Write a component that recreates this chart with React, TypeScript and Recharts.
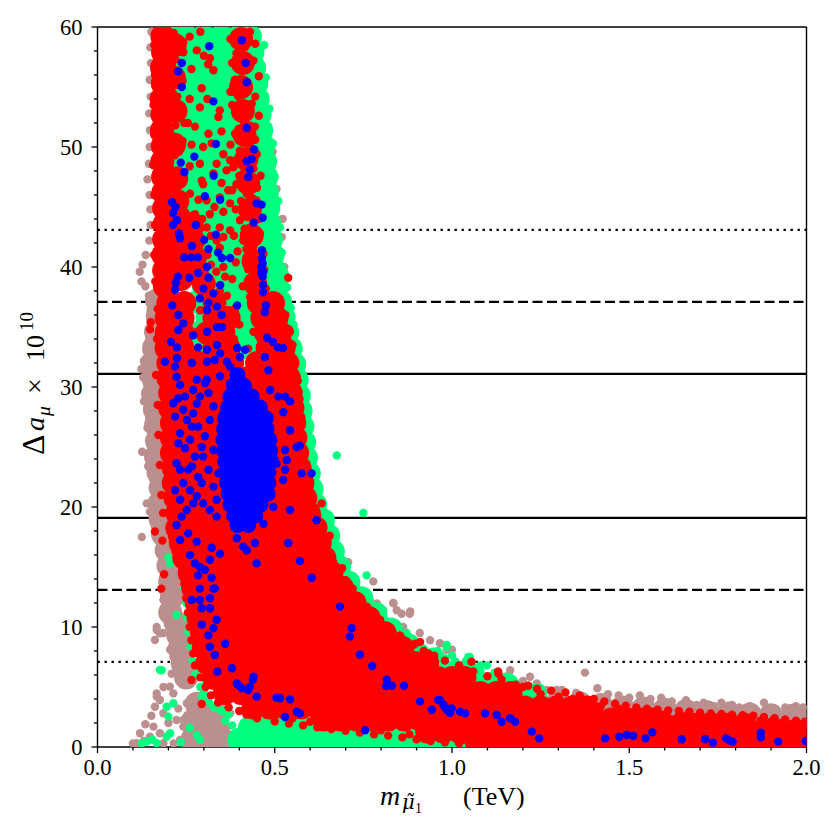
import React from "react";
import { ScatterChart, Scatter, XAxis, YAxis, ReferenceLine } from "recharts";

type Pt = [number, number];
type Row = [number, number[]]; // [y, x values along that y]

const xTicks = [0, 0.1, 0.2, 0.3, 0.4, 0.5, 0.6, 0.7, 0.8, 0.9, 1.0, 1.1, 1.2, 1.3, 1.4, 1.5, 1.6, 1.7, 1.8, 1.9, 2.0];
const yTicks = [0, 2, 4, 6, 8, 10, 12, 14, 16, 18, 20, 22, 24, 26, 28, 30, 32, 34, 36, 38, 40, 42, 44, 46, 48, 50, 52, 54, 56, 58, 60];

const solidLevels = [19.1, 31.1];
const dashedLevels = [13.1, 37.1];
const dottedLevels = [7.1, 43.1];

// ---- brown points (all scanned points) ----
const brownFill: Pt[] = [
  [0.168, 37.2], [0.17, 35.9], [0.165, 34.6], [0.16, 33.3],
  [0.155, 32.0], [0.158, 30.7], [0.157, 29.4], [0.162, 28.1], [0.165, 26.8], [0.168, 25.5], [0.165, 24.2],
  [0.172, 22.9], [0.178, 21.6], [0.175, 20.3], [0.178, 19.0], [0.185, 17.7], [0.195, 16.4], [0.2, 15.1],
  [0.205, 13.8], [0.21, 12.5], [0.205, 11.2], [0.22, 10.4], [0.228, 9.3], [0.232, 8.2], [0.24, 7.0],
  [0.25, 5.8], [0.28, 3.6], [0.3, 2.5], [0.27, 2.2], [0.33, 1.5], [0.29, 1.2], [0.35, 0.7], [0.31, 0.5],
  [0.268, 0.6], [0.34, 2.6],
  [1.3, 3.8], [1.36, 3.65], [1.42, 3.5], [1.48, 3.3], [1.54, 3.2], [1.6, 3.1], [1.66, 3.0],
  [1.72, 2.9], [1.78, 2.8], [1.84, 2.7], [1.9, 2.65], [1.96, 2.6], [1.995, 2.5],
];

const brownDots: Pt[] = [
  [0.152, 59.6], [0.149, 58.3], [0.151, 57.0], [0.147, 55.6], [0.15, 54.2], [0.146, 52.8], [0.148, 51.4],
  [0.147, 50.0], [0.145, 48.6], [0.141, 47.3], [0.147, 46.0], [0.149, 44.8], [0.15, 43.5], [0.146, 42.2],
  [0.136, 41.0], [0.127, 40.2], [0.119, 39.6], [0.124, 38.8], [0.135, 38.4], [0.145, 37.6], [0.15, 36.4],
  [0.152, 35.2], [0.146, 34.0], [0.138, 33.0], [0.131, 32.2], [0.124, 31.5], [0.129, 30.8], [0.14, 30.2],
  [0.135, 29.5], [0.131, 28.8], [0.14, 28.2], [0.146, 27.4], [0.141, 26.6], [0.15, 25.8], [0.126, 24.6],
  [0.143, 23.4], [0.157, 22.3], [0.166, 21.7], [0.139, 20.3], [0.148, 19.6], [0.125, 17.5], [0.162, 18.4],
  [0.355, 59.7], [0.372, 59.0], [0.39, 59.6], [0.384, 52.9], [0.398, 52.3], [0.468, 54.4], [0.494, 49.6],
  [0.49, 48.3], [0.478, 51.2], [0.505, 46.5], [0.52, 42.5], [0.527, 40.0], [0.522, 44.0], [0.54, 36.0],
  [0.55, 34.5], [0.56, 33.0],
  [0.186, 16.4], [0.195, 15.3], [0.186, 14.2], [0.181, 13.1], [0.186, 12.25], [0.195, 11.4], [0.167, 10.0],
  [0.186, 9.5], [0.209, 9.5], [0.205, 8.1], [0.214, 7.5], [0.209, 6.1], [0.186, 5.0], [0.167, 4.2],
  [0.167, 9.75], [0.176, 9.47], [0.162, 8.92],
  [0.204, 5.03], [0.214, 4.47], [0.167, 4.47], [0.176, 3.92], [0.162, 3.36], [0.186, 2.81], [0.252, 3.64],
  [0.27, 3.36], [0.261, 2.53], [0.242, 2.25], [0.28, 1.7], [0.308, 2.81], [0.327, 2.25], [0.346, 1.97],
  [0.364, 1.7], [0.299, 0.86], [0.327, 0.86], [0.355, 0.58], [0.12, 1.14], [0.11, 0.31], [0.148, 0.86],
  [0.176, 1.14], [0.158, 1.7], [0.186, 0.31], [0.252, 1.14], [0.233, 0.58], [0.289, 0.31], [0.223, 2.25],
  [0.242, 1.7], [0.346, 3.36], [0.374, 2.81], [0.1, 0.3], [0.13, 0.5], [0.135, 1.9], [0.152, 2.6],
  [0.2, 2.0], [0.215, 0.3], [0.228, 3.2],
  [0.707, 15.4], [0.778, 13.8], [0.834, 12.0], [0.881, 11.1], [0.844, 11.4], [0.938, 8.9], [0.985, 8.4],
  [0.768, 12.25], [0.806, 11.4], [0.862, 10.0], [0.909, 9.5], [0.788, 11.97], [0.835, 11.97], [0.858, 11.1],
  [0.882, 11.3], [0.966, 8.64], [0.985, 8.1], [0.938, 7.8], [0.9, 8.1], [1.0, 8.1], [1.164, 6.4],
  [1.22, 5.86], [1.239, 5.3], [1.267, 4.75], [1.295, 4.75], [1.375, 6.2], [1.31, 4.75], [1.41, 4.9],
  [1.47, 4.3], [1.53, 4.3], [1.59, 4.1], [1.66, 3.9], [1.71, 3.7], [1.76, 3.7], [1.81, 3.3], [1.88, 3.7],
  [1.94, 3.3], [1.99, 3.3], [1.35, 4.5], [1.44, 4.4], [1.5, 4.1], [1.56, 4.0], [1.62, 3.8], [1.69, 3.5],
  [1.74, 3.4], [1.79, 3.5], [1.84, 3.4], [1.9, 3.2], [1.97, 3.4], [1.16, 6.0], [1.2, 5.5],
];

// ---- green points ----
const greenFillRows: Row[] = [
  [59.2, [0.205, 0.25, 0.3, 0.35, 0.4, 0.43]],
  [57.9, [0.225, 0.275, 0.325, 0.375, 0.42, 0.437]],
  [56.6, [0.2, 0.25, 0.3, 0.35, 0.4, 0.442]],
  [55.3, [0.225, 0.275, 0.325, 0.375, 0.425, 0.448]],
  [54.0, [0.2, 0.25, 0.3, 0.35, 0.4, 0.452]],
  [52.7, [0.225, 0.275, 0.325, 0.375, 0.425, 0.457]],
  [51.4, [0.2, 0.25, 0.3, 0.35, 0.4, 0.45, 0.462]],
  [50.1, [0.225, 0.275, 0.325, 0.375, 0.425, 0.468]],
  [48.8, [0.2, 0.25, 0.3, 0.35, 0.4, 0.45, 0.473]],
  [47.5, [0.225, 0.275, 0.325, 0.375, 0.425, 0.476]],
  [46.2, [0.2, 0.25, 0.3, 0.35, 0.4, 0.45, 0.478]],
  [44.9, [0.225, 0.275, 0.325, 0.375, 0.425, 0.482]],
  [43.6, [0.25, 0.3, 0.35, 0.4, 0.45, 0.485]],
  [42.3, [0.275, 0.325, 0.375, 0.425, 0.475, 0.489]],
  [41.0, [0.25, 0.3, 0.35, 0.4, 0.45, 0.494]],
  [39.7, [0.275, 0.325, 0.375, 0.425, 0.475, 0.5]],
  [38.4, [0.3, 0.35, 0.4, 0.45, 0.506]],
  [37.1, [0.285, 0.33, 0.375, 0.42, 0.465, 0.515]],
  [35.8, [0.31, 0.355, 0.4, 0.445, 0.49, 0.525]],
  [34.5, [0.285, 0.33, 0.375, 0.42, 0.465, 0.51, 0.535]],
  [33.2, [0.31, 0.4, 0.44, 0.5, 0.545]],
  [31.9, [0.52, 0.555]],
  [30.6, [0.53, 0.562]],
  [29.3, [0.54, 0.568]],
  [28.0, [0.545, 0.573]],
  [26.7, [0.55, 0.578]],
  [25.4, [0.555, 0.583]],
  [24.1, [0.56, 0.588]],
  [22.8, [0.57, 0.596]],
  [21.5, [0.578, 0.604]],
  [20.2, [0.59, 0.614]],
  [18.9, [0.6, 0.636]],
  [17.6, [0.62, 0.651]],
  [16.3, [0.635, 0.664]],
  [15.0, [0.65, 0.681]],
  [13.7, [0.68, 0.708]],
  [12.4, [0.71, 0.744]],
  [11.1, [0.75, 0.784]],
  [9.8, [0.79, 0.828]],
  [8.5, [0.8, 0.84, 0.876]],
  [7.3, [0.87, 0.91, 0.948]],
  [6.2, [0.96, 1.0, 1.045]],
  [5.2, [1.07, 1.115, 1.155]],
  [4.3, [1.2, 1.235]],
  [1.6, [0.43, 0.475, 0.52, 0.565, 0.61, 0.655]],
  [0.6, [0.4, 0.445, 0.49, 0.535, 0.58, 0.625, 0.67, 0.715, 0.76, 0.805, 0.85, 0.895, 0.94, 0.985, 1.03]],
];

const greenDots: Pt[] = [
  [0.47, 58.5], [0.475, 55.8], [0.485, 53.2], [0.495, 50.3], [0.5, 47.5], [0.51, 45.5], [0.515, 43.3],
  [0.52, 41.2], [0.528, 39.5], [0.535, 38.3], [0.545, 36.6], [0.553, 35.2], [0.562, 33.6], [0.57, 32.2],
  [0.578, 30.8], [0.582, 29.3], [0.586, 27.8], [0.59, 26.4], [0.596, 25.0], [0.602, 23.6], [0.61, 22.2],
  [0.618, 20.9], [0.625, 19.6], [0.645, 18.3], [0.66, 17.0], [0.672, 15.8], [0.69, 14.7], [0.712, 13.7],
  [0.735, 12.9], [0.76, 12.1], [0.785, 11.3], [0.81, 10.6], [0.835, 9.9], [0.865, 9.3], [0.89, 8.7],
  [0.92, 8.2], [0.95, 7.8], [0.98, 7.4], [1.01, 7.1], [1.045, 6.7], [1.08, 6.3], [1.11, 5.9], [1.145, 5.6],
  [1.18, 5.3], [1.215, 5.1], [1.25, 4.9], [0.96, 8.0], [1.0, 7.6], [1.04, 7.2], [1.08, 6.8], [1.12, 6.2],
  [0.675, 24.3], [0.75, 19.5], [0.759, 14.3], [0.985, 8.5], [1.046, 7.5], [1.098, 6.8], [0.872, 9.5],
  [0.985, 8.36], [1.05, 7.5],
  [0.176, 6.42], [0.195, 3.36], [0.214, 3.64], [0.2, 2.53], [0.139, 0.45], [0.167, 0.31], [0.205, 1.14],
  [0.195, 0.86], [0.223, 11.0], [0.181, 6.4], [0.294, 4.2], [0.3, 4.5], [0.327, 3.36], [0.345, 3.1],
  [0.31, 3.8], [0.402, 0.86], [0.42, 1.14], [0.468, 0.86], [0.28, 1.0], [0.289, 0.58], [0.155, 0.6],
  [0.125, 0.3], [0.235, 0.4], [0.26, 1.6], [0.36, 2.2], [0.38, 1.8],
  [0.24, 14.5], [0.245, 13.2], [0.25, 12.0], [0.252, 10.8], [0.256, 9.6], [0.262, 8.4], [0.268, 7.2],
  [0.276, 6.0], [0.29, 5.0], [0.305, 5.5], [0.285, 6.5], [0.315, 3.7], [0.33, 3.3], [0.35, 3.0],
  [0.37, 2.7], [0.2, 15.8], [0.205, 15.3],
];

// ---- red points ----
const redFill: Pt[] = [
  [0.183, 59.2], [0.185, 57.9], [0.182, 56.6], [0.184, 55.3], [0.181, 54.0], [0.183, 52.7], [0.182, 51.4],
  [0.184, 50.1], [0.183, 48.8], [0.185, 47.5], [0.186, 46.2], [0.188, 44.9], [0.19, 43.6], [0.188, 42.3],
  [0.186, 41.0], [0.188, 39.7], [0.19, 38.4], [0.225, 45.5], [0.228, 44.2], [0.232, 42.9], [0.235, 41.6],
  [0.24, 40.3], [0.236, 39.0], [0.265, 43.6], [0.27, 42.2], [0.275, 40.8], [0.28, 39.5], [0.3, 38.6],
  [0.218, 58.5], [0.215, 55.8], [0.22, 53.0], [0.216, 50.2], [0.222, 47.4],
  [0.405, 59.0], [0.41, 57.0], [0.405, 55.0], [0.41, 53.0], [0.415, 51.0], [0.42, 49.0], [0.425, 47.0],
  [0.43, 44.8], [0.435, 42.6], [0.44, 40.5], [0.445, 38.6],
];

const redFillRows: Row[] = [
  [37.0, [0.2, 0.245, 0.33, 0.455, 0.495]],
  [35.75, [0.195, 0.24, 0.33, 0.37, 0.465, 0.505]],
  [34.5, [0.195, 0.24, 0.31, 0.355, 0.475, 0.515]],
  [33.25, [0.195, 0.24, 0.33, 0.37, 0.48, 0.525]],
  [32.0, [0.2, 0.245, 0.29, 0.335, 0.38, 0.45, 0.495, 0.535]],
  [30.75, [0.2, 0.245, 0.29, 0.335, 0.38, 0.425, 0.47, 0.51, 0.54]],
  [29.5, [0.205, 0.25, 0.295, 0.34, 0.385, 0.43, 0.475, 0.515, 0.545]],
  [28.25, [0.205, 0.25, 0.295, 0.34, 0.385, 0.43, 0.475, 0.52, 0.55]],
  [27.0, [0.21, 0.255, 0.3, 0.345, 0.39, 0.435, 0.48, 0.525, 0.555]],
  [25.75, [0.21, 0.255, 0.3, 0.345, 0.39, 0.435, 0.48, 0.525, 0.558]],
  [24.5, [0.21, 0.255, 0.3, 0.345, 0.39, 0.435, 0.48, 0.525, 0.563]],
  [23.25, [0.215, 0.26, 0.305, 0.35, 0.395, 0.44, 0.485, 0.53, 0.57]],
  [22.0, [0.215, 0.26, 0.305, 0.35, 0.395, 0.44, 0.485, 0.53, 0.578]],
  [20.75, [0.22, 0.265, 0.31, 0.355, 0.4, 0.445, 0.49, 0.535, 0.586]],
  [19.5, [0.225, 0.27, 0.315, 0.36, 0.405, 0.45, 0.495, 0.54, 0.585, 0.596]],
  [18.25, [0.225, 0.27, 0.315, 0.36, 0.405, 0.45, 0.495, 0.54, 0.585, 0.615]],
  [17.0, [0.235, 0.28, 0.325, 0.37, 0.415, 0.46, 0.505, 0.55, 0.595, 0.627]],
  [15.75, [0.245, 0.29, 0.335, 0.38, 0.425, 0.47, 0.515, 0.56, 0.605, 0.64]],
  [14.5, [0.26, 0.305, 0.35, 0.395, 0.44, 0.485, 0.53, 0.575, 0.62, 0.66]],
  [13.25, [0.27, 0.315, 0.36, 0.405, 0.45, 0.495, 0.54, 0.585, 0.63, 0.665, 0.69]],
  [12.0, [0.28, 0.325, 0.37, 0.415, 0.46, 0.505, 0.55, 0.595, 0.64, 0.685, 0.725]],
  [10.75, [0.285, 0.33, 0.375, 0.42, 0.465, 0.51, 0.555, 0.6, 0.645, 0.69, 0.735, 0.765]],
  [9.5, [0.295, 0.34, 0.385, 0.43, 0.475, 0.52, 0.565, 0.61, 0.655, 0.7, 0.745, 0.785, 0.81]],
  [8.25, [0.3, 0.345, 0.39, 0.435, 0.48, 0.525, 0.57, 0.615, 0.66, 0.705, 0.75, 0.795, 0.835, 0.86]],
  [7.0, [0.31, 0.355, 0.4, 0.445, 0.49, 0.535, 0.58, 0.625, 0.67, 0.715, 0.76, 0.805, 0.85, 0.895, 0.93]],
  [5.75, [0.33, 0.375, 0.42, 0.465, 0.51, 0.555, 0.6, 0.645, 0.69, 0.735, 0.78, 0.825, 0.87, 0.915, 0.96, 1.0, 1.035]],
  [4.5, [0.36, 0.405, 0.45, 0.495, 0.54, 0.585, 0.63, 0.675, 0.72, 0.765, 0.81, 0.855, 0.9, 0.945, 0.99, 1.035, 1.08, 1.125, 1.165]],
  [3.3, [0.44, 0.485, 0.53, 0.575, 0.62, 0.665, 0.71, 0.755, 0.8, 0.845, 0.89, 0.935, 0.98, 1.025, 1.07, 1.115, 1.16, 1.205, 1.25, 1.295, 1.34, 1.38]],
  [2.3, [0.64, 0.685, 0.73, 0.775, 0.82, 0.865, 0.91, 0.955, 1.0, 1.045, 1.09, 1.135, 1.18, 1.225, 1.27, 1.315, 1.36, 1.405, 1.45, 1.495, 1.54, 1.57]],
  [1.85, [1.6, 1.645, 1.69, 1.735, 1.78, 1.825]],
  [1.3, [0.93, 0.975, 1.02, 1.065, 1.11, 1.155, 1.2, 1.245, 1.29, 1.335, 1.38, 1.425, 1.47, 1.515, 1.56, 1.605, 1.65, 1.695, 1.74, 1.785, 1.83, 1.875, 1.92, 1.965, 1.995]],
  [0.4, [1.07, 1.115, 1.16, 1.205, 1.25, 1.295, 1.34, 1.385, 1.43, 1.475, 1.52, 1.565, 1.61, 1.655, 1.7, 1.745, 1.79, 1.835, 1.88, 1.925, 1.97, 1.995]],
];

const redDots: Pt[] = [
  // upper centre, scattered among green
  [0.242, 58.75], [0.242, 57.9], [0.28, 58.05], [0.317, 57.4], [0.327, 56.4], [0.294, 54.9], [0.345, 53.05],
  [0.341, 52.5], [0.289, 53.3], [0.275, 51.7], [0.313, 51.1], [0.322, 50.3], [0.298, 50.0], [0.289, 48.6],
  [0.336, 48.6], [0.355, 49.4], [0.327, 47.8], [0.294, 47.2], [0.364, 48.05], [0.374, 48.9], [0.261, 46.1],
  [0.298, 46.9], [0.369, 46.4], [0.345, 45.8], [0.374, 45.3], [0.308, 45.55], [0.317, 44.4], [0.275, 44.4],
  [0.345, 43.3], [0.336, 42.2], [0.308, 43.3], [0.374, 43.05], [0.261, 43.9], [0.3, 57.6], [0.312, 56.9],
  [0.26, 59.2], [0.29, 59.6], [0.265, 56.5], [0.31, 54.0], [0.26, 54.0], [0.255, 52.0], [0.35, 51.3],
  [0.265, 50.2], [0.26, 48.4], [0.35, 47.0], [0.285, 45.6], [0.355, 44.6], [0.33, 45.0], [0.295, 44.0],
  [0.355, 42.5], [0.32, 42.6], [0.29, 43.2], [0.31, 41.0], [0.355, 40.0], [0.335, 39.6], [0.345, 41.6],
  [0.3, 40.0], [0.32, 38.6], [0.345, 38.0], [0.36, 39.2],
  // upper right band
  [0.402, 59.4], [0.416, 58.3], [0.392, 57.8], [0.44, 57.2], [0.407, 56.4], [0.388, 55.6], [0.425, 54.7],
  [0.397, 54.2], [0.435, 53.6], [0.392, 53.05], [0.411, 52.2], [0.444, 51.7], [0.388, 51.1], [0.416, 50.8],
  [0.43, 50.3], [0.402, 49.7], [0.449, 49.4], [0.383, 48.3], [0.411, 47.8], [0.435, 47.2], [0.392, 46.9],
  [0.421, 46.1], [0.449, 45.55], [0.411, 45.0], [0.44, 44.4], [0.402, 43.9], [0.43, 43.3], [0.458, 42.8],
  [0.411, 42.2], [0.44, 41.7], [0.468, 41.1], [0.47, 39.8], [0.475, 38.2], [0.538, 39.1], [0.543, 34.6],
  [0.375, 59.0], [0.43, 59.6], [0.445, 58.6], [0.38, 57.0], [0.425, 56.6], [0.455, 55.9], [0.375, 54.6],
  [0.41, 55.0], [0.445, 54.2], [0.38, 53.5], [0.42, 53.4], [0.455, 52.6], [0.398, 51.5], [0.43, 51.8],
  [0.375, 50.2], [0.445, 50.6], [0.39, 48.9], [0.44, 48.2], [0.46, 47.6], [0.4, 47.6], [0.38, 46.4],
  [0.45, 46.6], [0.405, 45.5], [0.435, 45.8], [0.39, 44.8], [0.455, 44.0], [0.415, 43.2], [0.385, 42.6],
  [0.42, 41.5], [0.395, 41.3], [0.425, 39.8], [0.41, 38.4],
  [0.39, 40.4], [0.38, 39.0], [0.365, 37.6], [0.39, 36.6], [0.4, 35.2], [0.385, 34.0], [0.43, 37.5],
  [0.44, 34.6], [0.425, 33.2], [0.29, 36.4], [0.28, 34.6], [0.275, 33.0], [0.3, 38.8], [0.32, 40.2],
  // upper left band edge
  [0.215, 59.5], [0.22, 57.3], [0.23, 56.0], [0.212, 54.5], [0.235, 53.0], [0.22, 51.8], [0.24, 50.5],
  [0.218, 49.3], [0.232, 48.0], [0.212, 46.8], [0.245, 45.8], [0.2, 59.7], [0.235, 58.3], [0.21, 56.9],
  [0.24, 55.5], [0.225, 54.2], [0.245, 52.0], [0.21, 50.5], [0.23, 49.6], [0.24, 47.0],
  [0.16, 58.5], [0.162, 56.0], [0.158, 53.5],
  [0.16, 51.0], [0.157, 48.5], [0.16, 46.0], [0.162, 43.5], [0.16, 41.0], [0.163, 38.8],
  // left edge of main body
  [0.17, 36.5], [0.168, 34.0], [0.165, 31.0], [0.17, 28.5], [0.172, 26.0], [0.176, 23.5], [0.18, 21.0],
  [0.185, 19.5], [0.15, 35.4], [0.148, 34.8], [0.162, 17.96], [0.183, 17.2], [0.188, 14.4], [0.18, 13.2],
  [0.21, 17.5], [0.22, 16.3], [0.23, 15.6], [0.24, 14.8], [0.245, 13.6], [0.25, 12.4], [0.255, 11.2],
  [0.26, 10.0], [0.265, 8.9], [0.27, 7.8], [0.275, 6.8], [0.29, 5.8], [0.305, 5.0], [0.32, 4.3], [0.34, 3.7],
  [0.37, 3.3], [0.4, 3.0], [0.265, 5.58], [0.294, 3.58], [0.336, 4.47],
  // right edge of main body
  [0.53, 36.0], [0.54, 34.8], [0.55, 33.5], [0.558, 32.0], [0.565, 30.5], [0.57, 29.0], [0.575, 27.5],
  [0.578, 26.0], [0.583, 24.5], [0.59, 23.0], [0.598, 21.7], [0.606, 20.5],
  // upper edge of the tail
  [0.62, 19.3], [0.63, 18.3], [0.64, 17.2], [0.65, 16.3], [0.665, 15.4], [0.68, 14.6], [0.7, 13.9],
  [0.72, 13.2], [0.74, 12.4], [0.76, 11.7], [0.78, 11.0], [0.8, 10.3], [0.83, 9.6], [0.86, 9.0], [0.89, 8.5],
  [0.92, 8.0], [0.95, 7.6], [0.98, 7.2], [1.02, 6.8], [1.06, 6.3], [1.1, 5.9], [1.14, 5.6], [1.18, 5.2],
  [1.2, 5.0], [1.24, 4.85], [1.28, 4.7], [1.32, 4.55], [1.36, 4.3], [1.25, 4.4], [1.3, 4.2], [1.34, 4.0],
  [1.38, 3.9], [1.4, 4.0], [1.43, 3.8], [1.46, 3.6], [1.49, 3.45], [1.52, 3.3], [1.55, 3.2], [1.58, 3.1],
  [1.61, 3.05], [1.64, 3.0], [1.67, 2.95], [1.7, 2.85], [1.73, 2.8], [1.76, 2.75], [1.79, 2.7], [1.82, 2.65],
  [1.85, 2.6], [1.88, 2.5], [1.91, 2.4], [1.94, 2.3], [1.97, 2.2], [1.995, 2.1], [1.87, 2.2], [1.9, 2.1],
  [1.93, 2.0], [1.96, 1.9], [1.99, 1.8], [1.6, 2.7], [1.66, 2.6], [1.72, 2.5], [1.78, 2.45], [1.84, 2.35],
  [1.42, 3.4], [1.47, 3.2], [1.52, 3.0], [1.56, 2.9],
  [0.797, 10.6], [0.853, 9.3], [0.896, 8.6], [0.933, 7.8], [1.055, 7.1], [1.13, 6.3], [0.91, 8.75],
  [1.131, 6.1], [1.215, 5.1], [0.632, 20.3], [0.655, 17.6], [0.69, 14.9],
  // lower edge of the tail
  [0.45, 2.4], [0.5, 2.15], [0.54, 1.95], [0.58, 1.8], [0.62, 1.65], [0.66, 1.5], [0.7, 1.35], [0.74, 1.2],
  [0.78, 1.05], [0.82, 0.95], [0.86, 0.8], [0.9, 0.65], [0.94, 0.5], [0.98, 0.4], [1.02, 0.3], [1.06, 0.2],
  [0.6, 2.1], [0.7, 1.8], [0.8, 1.4], [0.88, 1.05], [0.96, 0.8], [1.03, 0.6], [0.5, 2.6], [0.55, 2.4],
  [0.48, 2.9], [0.42, 2.7],
];

// ---- blue points ----
const blueCoreRows: Row[] = [
  [31.0, [0.395]],
  [30.1, [0.385, 0.413]],
  [29.2, [0.375, 0.405, 0.435]],
  [28.3, [0.368, 0.398, 0.428, 0.458]],
  [27.4, [0.36, 0.39, 0.42, 0.45, 0.475]],
  [26.5, [0.357, 0.387, 0.417, 0.447, 0.477]],
  [25.6, [0.355, 0.385, 0.415, 0.445, 0.475, 0.485]],
  [24.7, [0.357, 0.387, 0.417, 0.447, 0.477, 0.487]],
  [23.8, [0.36, 0.39, 0.42, 0.45, 0.48, 0.49]],
  [22.9, [0.362, 0.392, 0.422, 0.452, 0.482]],
  [22.0, [0.365, 0.395, 0.425, 0.455, 0.482]],
  [21.1, [0.37, 0.4, 0.43, 0.46, 0.48]],
  [20.2, [0.375, 0.405, 0.435, 0.46]],
  [19.3, [0.385, 0.415, 0.445]],
  [18.5, [0.395, 0.425]],
];

const blueDots: Pt[] = [
  [0.315, 58.4], [0.407, 58.9], [0.418, 57.0], [0.238, 57.0], [0.228, 56.3], [0.238, 55.0], [0.421, 55.4],
  [0.327, 53.8], [0.421, 51.6], [0.334, 50.25], [0.442, 49.8], [0.273, 49.2], [0.235, 48.7], [0.245, 47.9],
  [0.421, 48.8], [0.435, 49.0], [0.43, 48.1], [0.425, 47.5], [0.328, 47.6], [0.303, 45.9], [0.346, 45.6],
  [0.21, 45.4], [0.22, 45.0], [0.213, 44.5], [0.224, 43.9], [0.213, 43.5], [0.277, 43.5], [0.449, 45.3],
  [0.463, 45.2], [0.466, 44.1], [0.441, 43.7], [0.23, 42.8], [0.233, 42.4], [0.334, 42.7], [0.301, 42.25],
  [0.266, 41.75], [0.313, 41.5], [0.34, 41.2], [0.351, 40.75], [0.374, 40.75], [0.245, 40.8], [0.264, 40.8],
  [0.283, 40.8], [0.464, 41.4], [0.464, 40.75], [0.466, 40.3], [0.462, 40.0], [0.468, 39.6], [0.462, 39.5],
  [0.466, 39.2], [0.467, 38.5], [0.467, 37.9], [0.309, 40.0], [0.284, 39.5], [0.259, 39.1], [0.227, 39.2],
  [0.221, 38.7], [0.219, 38.1], [0.313, 39.1], [0.346, 38.5], [0.327, 37.8], [0.299, 38.2], [0.211, 36.8],
  [0.289, 37.4], [0.313, 37.0], [0.309, 36.4], [0.337, 36.7], [0.394, 36.8], [0.475, 36.8], [0.472, 36.25],
  [0.228, 36.0], [0.35, 36.0], [0.242, 35.3], [0.228, 34.75], [0.27, 34.3], [0.309, 34.6], [0.337, 35.0],
  [0.351, 35.0], [0.207, 33.75], [0.224, 33.3], [0.478, 34.1], [0.495, 33.75], [0.509, 33.3], [0.523, 33.25],
  [0.284, 33.3], [0.309, 33.1], [0.337, 33.5], [0.346, 32.8], [0.394, 33.25], [0.416, 33.1], [0.402, 32.5],
  [0.19, 32.1], [0.224, 32.4], [0.219, 31.7], [0.266, 32.0], [0.472, 32.5], [0.309, 32.1], [0.331, 32.25],
  [0.365, 32.1], [0.374, 31.7],
  [0.223, 30.86], [0.233, 30.17], [0.228, 29.06], [0.214, 28.64], [0.219, 27.53], [0.233, 26.14], [0.228, 25.3],
  [0.247, 24.9], [0.223, 23.64], [0.233, 23.1], [0.242, 22.0], [0.219, 21.4], [0.233, 20.6], [0.252, 19.75],
  [0.256, 23.1], [0.266, 23.4], [0.275, 24.2], [0.261, 25.6], [0.266, 26.7], [0.27, 27.8], [0.28, 28.6],
  [0.289, 29.2], [0.308, 30.6], [0.313, 29.5], [0.327, 28.4], [0.317, 27.25], [0.303, 25.9], [0.294, 25.0],
  [0.298, 24.2], [0.313, 23.1], [0.294, 22.0], [0.28, 20.9], [0.298, 20.3], [0.327, 21.7], [0.336, 20.6],
  [0.317, 19.75], [0.341, 22.8], [0.355, 24.2], [0.35, 26.4], [0.355, 27.8], [0.364, 29.2], [0.374, 30.3],
  [0.346, 30.9], [0.303, 30.3], [0.28, 30.6], [0.27, 29.75], [0.247, 29.2], [0.242, 28.1], [0.252, 27.25],
  [0.284, 26.7], [0.327, 24.75], [0.284, 22.5], [0.261, 21.4], [0.27, 20.3], [0.237, 19.2], [0.336, 19.2],
  [0.374, 20.3], [0.364, 22.0], [0.374, 23.4], [0.374, 25.3], [0.374, 27.25], [0.487, 29.75], [0.51, 29.2],
  [0.529, 29.2], [0.543, 28.8], [0.524, 27.9], [0.543, 26.4], [0.562, 25.0], [0.571, 25.1], [0.529, 24.75],
  [0.534, 23.9], [0.505, 23.6], [0.529, 23.1], [0.576, 22.8], [0.604, 22.8], [0.524, 22.25], [0.543, 19.75],
  [0.496, 20.0], [0.482, 31.4],
  [0.223, 18.5], [0.233, 17.25], [0.256, 17.8], [0.28, 17.1], [0.261, 16.0], [0.275, 15.3], [0.289, 15.0],
  [0.317, 15.6], [0.346, 16.1], [0.322, 16.6], [0.303, 14.75], [0.284, 14.3], [0.322, 14.1], [0.289, 13.2],
  [0.327, 13.2], [0.331, 13.2], [0.266, 12.25], [0.289, 12.25], [0.317, 12.4], [0.294, 11.56], [0.317, 11.56],
  [0.336, 10.6], [0.327, 9.9], [0.294, 10.2], [0.313, 9.3], [0.36, 8.6], [0.317, 8.36], [0.331, 7.67],
  [0.379, 6.56], [0.338, 6.28], [0.393, 5.3], [0.407, 4.9], [0.425, 4.75], [0.44, 5.86], [0.449, 4.2],
  [0.397, 5.17], [0.43, 5.03], [0.438, 5.6], [0.505, 4.1], [0.515, 4.06], [0.543, 3.97], [0.529, 2.5],
  [0.571, 2.8], [0.562, 2.94], [0.393, 17.4], [0.411, 16.7], [0.421, 16.4], [0.449, 15.3], [0.444, 17.0],
  [0.393, 19.5], [0.43, 18.4], [0.468, 18.6], [0.538, 17.0], [0.571, 15.5], [0.604, 14.1], [0.618, 18.9],
  [0.684, 11.7], [0.717, 9.9], [0.712, 9.2], [0.74, 7.7], [0.775, 6.75], [0.816, 5.6], [0.83, 5.1],
  [0.814, 5.08], [0.865, 5.1], [0.91, 3.8], [0.943, 3.1], [0.966, 3.9], [0.98, 3.36], [0.994, 3.1],
  [0.755, 1.4],
  [0.961, 3.92], [0.976, 3.5], [0.985, 3.08], [0.999, 3.22], [0.994, 2.86], [1.023, 2.94], [1.037, 2.8],
  [1.093, 2.8], [1.126, 2.67], [1.14, 2.1], [1.164, 2.4], [1.178, 2.1], [1.225, 1.28], [1.246, 0.72],
  [1.432, 0.72], [1.472, 0.86], [1.493, 1.0], [1.511, 0.92], [1.546, 0.72], [1.565, 1.22], [1.648, 0.64],
  [1.714, 0.64], [1.736, 0.36], [1.773, 0.72], [1.784, 0.53], [1.792, 0.45], [1.871, 1.19], [1.871, 0.8],
  [1.92, 0.45], [1.998, 0.5],
];

const BROWN = "#bc8f8f";
const GREEN = "#00ff7f";
const RED = "#ff0000";
const BLUE = "#0000ff";
const FONT = "'Liberation Serif', 'DejaVu Serif', serif";

const DOT_R = 4.2;
const FILL_R = 12;
const CORE_R = 8;

const toPts = (list: Pt[]) => list.map(([x, y]) => ({ x, y }));
const fromRows = (rows: Row[]) => rows.flatMap(([y, xs]) => xs.map((x) => ({ x, y })));

const disc = (color: string, r: number) => (props: any) =>
  <circle cx={props.cx} cy={props.cy} r={r} fill={color} />;

function XTick(props: any) {
  const { x, y, payload } = props;
  const v = payload.value as number;
  const major = Math.abs(v * 2 - Math.round(v * 2)) < 1e-6;
  return (
    <g>
      <line x1={x} x2={x} y1={y} y2={y + (major ? 6 : 3.5)} stroke="#000" strokeWidth={1.3} />
      {major && (
        <text x={x} y={y + 28} textAnchor="middle" fontFamily={FONT} fontSize={22.5} fill="#000">
          {v.toFixed(1)}
        </text>
      )}
    </g>
  );
}

function YTick(props: any) {
  const { x, y, payload } = props;
  const v = payload.value as number;
  const major = v % 10 === 0;
  return (
    <g>
      <line x1={x} x2={x - (major ? 6 : 3.5)} y1={y} y2={y} stroke="#000" strokeWidth={1.3} />
      {major && (
        <text x={x - 15} y={y + 8} textAnchor="end" fontFamily={FONT} fontSize={22.5} fill="#000">
          {v}
        </text>
      )}
    </g>
  );
}

function XLabel() {
  return (
    <text y={805} fontFamily={FONT} fontSize={26} fill="#000">
      <tspan x={380} fontSize={28} fontStyle="italic">m</tspan>
      <tspan x={402} dy={4} fontSize={19.5} fontStyle="italic" fontFamily="'DejaVu Serif', serif">{"\u03bc\u0303"}</tspan>
      <tspan x={415} dy={4} fontSize={14}>1</tspan>
      <tspan x={463} dy={-8}>(TeV)</tspan>
    </text>
  );
}

function YLabel() {
  return (
    <text transform="translate(44,0) rotate(-90)" y={0} fontFamily={FONT} fontSize={28} fill="#000">
      <tspan x={-455} fontSize={32}>Δ</tspan>
      <tspan x={-431} fontStyle="italic">a</tspan>
      <tspan x={-416} dy={6} fontSize={19.5} fontStyle="italic">μ</tspan>
      <tspan x={-394} dy={-6}>×</tspan>
      <tspan x={-361} fontSize={26}>10</tspan>
      <tspan x={-331} dy={-11} fontSize={19}>10</tspan>
    </text>
  );
}

export default function App() {
  return (
    <div style={{ position: "absolute", left: 0, top: 0, width: 840, height: 840, background: "#fff" }}>
      <ScatterChart width={840} height={840} margin={{ top: 27, right: 33.5, bottom: 33, left: 37.5 }}>
        <XAxis
          type="number"
          dataKey="x"
          domain={[0, 2]}
          ticks={xTicks}
          interval={0}
          allowDataOverflow
          height={60}
          tickSize={0}
          tickMargin={0}
          tickLine={false}
          axisLine={{ stroke: "#000", strokeWidth: 1.4 }}
          tick={<XTick />}
          label={<XLabel />}
        />
        <YAxis
          type="number"
          dataKey="y"
          domain={[0, 60]}
          ticks={yTicks}
          interval={0}
          allowDataOverflow
          width={60}
          tickSize={0}
          tickMargin={0}
          tickLine={false}
          axisLine={{ stroke: "#000", strokeWidth: 1.4 }}
          tick={<YTick />}
          label={<YLabel />}
        />
        <Scatter data={toPts(brownFill)} shape={disc(BROWN, FILL_R)} isAnimationActive={false} />
        <Scatter data={toPts(brownDots)} shape={disc(BROWN, DOT_R)} isAnimationActive={false} />
        <Scatter data={fromRows(greenFillRows)} shape={disc(GREEN, FILL_R)} isAnimationActive={false} />
        <Scatter data={toPts(greenDots)} shape={disc(GREEN, DOT_R)} isAnimationActive={false} />
        <Scatter data={toPts(redFill)} shape={disc(RED, FILL_R)} isAnimationActive={false} />
        <Scatter data={fromRows(redFillRows)} shape={disc(RED, FILL_R)} isAnimationActive={false} />
        <Scatter data={toPts(redDots)} shape={disc(RED, DOT_R)} isAnimationActive={false} />
        <Scatter data={fromRows(blueCoreRows)} shape={disc(BLUE, CORE_R)} isAnimationActive={false} />
        <Scatter data={toPts(blueDots)} shape={disc(BLUE, DOT_R)} isAnimationActive={false} />
        {solidLevels.map((v) => (
          <ReferenceLine key={`s${v}`} y={v} stroke="#000" strokeWidth={2.2} />
        ))}
        {dashedLevels.map((v) => (
          <ReferenceLine key={`d${v}`} y={v} stroke="#000" strokeWidth={2.2} strokeDasharray="10 4.5" />
        ))}
        {dottedLevels.map((v) => (
          <ReferenceLine key={`o${v}`} y={v} stroke="#000" strokeWidth={2.2} strokeDasharray="2.4 4.6" />
        ))}
        <ReferenceLine y={60} stroke="#000" strokeWidth={1.4} />
        <ReferenceLine x={2} stroke="#000" strokeWidth={1.4} />
      </ScatterChart>
    </div>
  );
}
